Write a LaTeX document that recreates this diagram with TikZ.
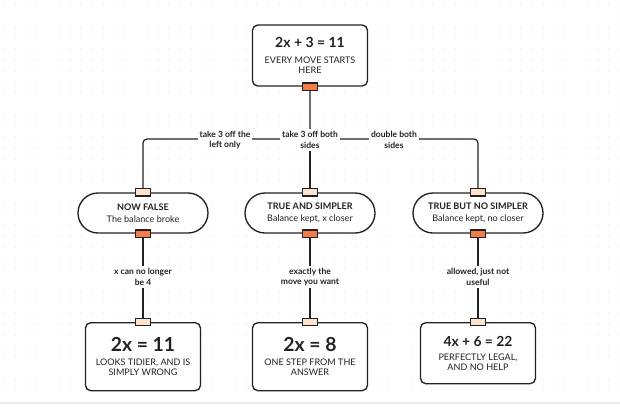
\documentclass[tikz,border=0pt]{standalone}
\usepackage{fontspec}
\setmainfont{Lato}
\usetikzlibrary{calc}
\definecolor{ink}{HTML}{222222}
\definecolor{portout}{HTML}{F47B4B}
\definecolor{portin}{HTML}{FDE3CD}
\definecolor{griddot}{HTML}{E2E2E2}
\newcommand\cardhead{\fontsize{10.5}{12.5}\selectfont\bfseries}
\newcommand\cardbig{\fontsize{14.5}{17}\selectfont\bfseries}
\newcommand\cardmid{\fontsize{10.4}{12.5}\selectfont\bfseries}
\newcommand\cardnote{\fontsize{6.8}{7.6}\selectfont}
\newcommand\pillhead{\fontsize{6.8}{8}\selectfont\bfseries}

\tikzset{
  card/.style={draw=ink, line width=1pt, rounded corners=4pt, fill=white, minimum width=86.25pt, align=center, text=ink, inner sep=0pt, font=\cardnote},
  pill/.style={draw=ink, line width=1pt, rounded corners=15pt, fill=white, minimum width=97.5pt, minimum height=30pt, align=center, text=ink, inner sep=0pt, font=\cardnote},
  port/.style={draw=ink, line width=0.8pt, minimum width=11pt, minimum height=5.5pt, inner sep=0pt},
  outport/.style={port, fill=portout},
  inport/.style={port, fill=portin},
  wire/.style={draw=ink, line width=0.9pt, rounded corners=3pt},
  tag/.style={fill=white, text=ink, font=\fontsize{6.4}{8}\selectfont\bfseries, align=center, inner sep=1.5pt}
}

\begin{document}
\begin{tikzpicture}[x=0.75pt, y=-0.75pt]
		%%%%% START %%%%%
		\useasboundingbox[fill=white] (0,0) rectangle (620,415);
		
		\foreach \i in {0,...,56}
			\foreach \j in {0,...,35}
				\fill[griddot] (\i*11+4, \j*11+5) circle (0.7);
		\draw[line width=0.8pt, color=black!8] (0,403) -- (620,403);
		
		% start
		\node[card, minimum height=45.75pt] (start) at (310,55.5) {{\cardhead 2x + 3 = 11}\\[4.5pt]EVERY MOVE STARTS\\HERE};
		\node[outport] (start-out) at (start.south) {};
		\coordinate (split) at (310,139);
		
		% the three moves
		\node[pill] (left) at (143,213) {{\pillhead NOW FALSE}\\[1.5pt]The balance broke};
		\node[pill] (both) at (310,213) {{\pillhead TRUE AND SIMPLER}\\[1.5pt]Balance kept, x closer};
		\node[pill] (dbl) at (478,213) {{\pillhead TRUE BUT NO SIMPLER}\\[1.5pt]Balance kept, no closer};
		
		\node[inport] (left-in) at (left.north) {};
		\node[inport] (both-in) at (both.north) {};
		\node[inport] (dbl-in) at (dbl.north) {};
		\node[outport] (left-out) at (left.south) {};
		\node[outport] (both-out) at (both.south) {};
		\node[outport] (dbl-out) at (dbl.south) {};
		
		% results
		\node[card, anchor=north, minimum height=51pt] (wrong) at (143,322) {{\cardbig 2x = 11}\\[3pt]LOOKS TIDIER, AND IS\\SIMPLY WRONG};
		\node[card, anchor=north, minimum height=51pt] (good) at (310,322) {{\cardbig 2x = 8}\\[3pt]ONE STEP FROM THE\\ANSWER};
		\node[card, anchor=north, minimum height=45.75pt] (legal) at (478,322) {{\cardmid 4x + 6 = 22}\\[3pt]PERFECTLY LEGAL,\\AND NO HELP};
		
		\node[inport] (wrong-in) at (wrong.north) {};
		\node[inport] (good-in) at (good.north) {};
		\node[inport] (legal-in) at (legal.north) {};
		
		\draw[wire] (start-out) -- (split) -| (left-in);
		\draw[wire] (split) -- (both-in);
		\draw[wire] (split) -| (dbl-in);
		\draw[wire] (left-out) -- (wrong-in);
		\draw[wire] (both-out) -- (good-in);
		\draw[wire] (dbl-out) -- (legal-in);
		
		\node[tag] (t-left) at (225,140) {take 3 off the\\left only};
		\node[tag] (t-both) at (310,140) {take 3 off both\\sides};
		\node[tag] (t-dbl) at (394,140) {double both\\sides};
		\node[tag] (t-wrong) at (143,277) {x can no longer\\be 4};
		\node[tag] (t-good) at (310,277) {exactly the\\move you want};
		\node[tag] (t-legal) at (478,277) {allowed, just not\\useful};
		%%%%% END %%%%%
\end{tikzpicture}
\end{document}
